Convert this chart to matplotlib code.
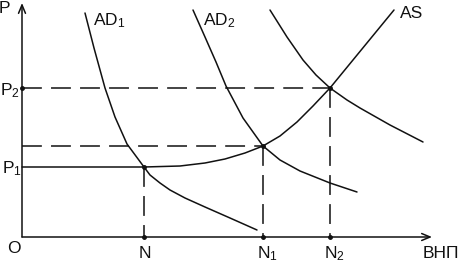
import matplotlib.pyplot as plt

plt.rcParams['font.family'] = ['Liberation Sans', 'DejaVu Sans']
plt.rcParams['mathtext.fontset'] = 'custom'
plt.rcParams['mathtext.rm'] = 'Liberation Sans'
plt.rcParams['mathtext.default'] = 'regular'

# curves (x = output, y = price level)
ad1_x = [63, 72, 83, 93, 105, 122, 128, 138, 148, 163, 183, 208, 235]
ad1_y = [224, 189, 149, 120, 93, 70, 62, 54, 47, 39, 30, 19, 7]

ad2_x = [171, 183, 194, 204, 221, 241, 258, 278, 308, 335]
ad2_y = [227, 200, 175, 151, 119, 91, 77, 66, 54, 45]

ad3_x = [248, 265, 281, 294, 308, 325, 338, 368, 401]
ad3_y = [227, 200, 177, 162, 149, 137, 129, 112, 95]

as_x = [0, 122, 158, 183, 203, 223, 241, 258, 275, 291, 308, 372]
as_y = [70, 70, 71, 74, 78, 84, 91, 101, 115, 131, 149, 227]

# equilibrium points
eq_x = [122, 241, 308]
eq_y = [70, 91, 149]
eq_labels = ['N', 'N_1', 'N_2']

fig = plt.figure(figsize=(4.61, 2.64), dpi=100)
ax = fig.add_axes([0, 0, 1, 1])
ax.set_xlim(-22, 439)
ax.set_ylim(-27, 237)
ax.axis('off')

lw = 1.1
ink = '#111111'

# axes with arrows
arrow = dict(arrowstyle='->, head_length=0.6, head_width=0.25',
             color=ink, lw=lw, shrinkA=0, shrinkB=0)
ax.annotate('', xy=(0, 234), xytext=(0, 0), arrowprops=arrow)
ax.annotate('', xy=(410, 0), xytext=(0, 0), arrowprops=arrow)

# curves
for xs, ys in [(ad1_x, ad1_y), (ad2_x, ad2_y), (ad3_x, ad3_y), (as_x, as_y)]:
    ax.plot(xs, ys, color=ink, lw=lw, solid_capstyle='round', solid_joinstyle='round')

# dashed guides
dash = (13, 6)
for x, y in zip(eq_x[1:], eq_y[1:]):
    ax.plot([0, x], [y, y], color=ink, lw=lw, dashes=dash)
for x, y in zip(eq_x, eq_y):
    ax.plot([x, x], [y, 0], color=ink, lw=lw, dashes=dash)

# little dots
ax.plot(eq_x, eq_y, 'o', color=ink, ms=2.5)
ax.plot(eq_x, [0, 0, 0], 'o', color=ink, ms=2.5)
ax.plot([0], [eq_y[2]], 'o', color=ink, ms=2.5)

fs = 12.5
txt = dict(fontsize=fs, color=ink, ha='left', va='baseline')
ax.text(-23, 224, 'P', **txt)
ax.text(71, 212, '$AD_1$', **txt)
ax.text(181, 212, '$AD_2$', **txt)
ax.text(378, 219, 'AS', **txt)
ax.text(-22, 142, '$P_2$', **txt)
ax.text(-20, 64, '$P_1$', **txt)
ax.text(-15, -16, 'O', **txt)
for x, lab in zip(eq_x, eq_labels):
    ax.text(x - 6, -21, '$' + lab + '$', **txt)
ax.text(401, -21, 'ВНП', **txt)

fig.savefig('out.png', dpi=100)
